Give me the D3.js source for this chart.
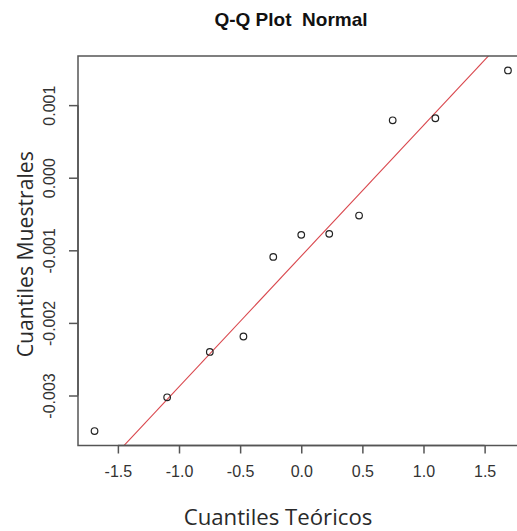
<!DOCTYPE html>
<html>
<head>
<meta charset="utf-8">
<script src="https://cdn.jsdelivr.net/npm/d3@7"></script>
<style>
  html, body { margin: 0; padding: 0; background: #fff; }
  svg { display: block; }
  .main-title { white-space: pre; }
</style>
</head>
<body>
<svg id="chart" width="517" height="531"></svg>
<script>
// Normal Q-Q plot: theoretical normal quantiles vs. sample quantiles
const theoretical = [-1.691, -1.097, -0.748, -0.473, -0.229, 0, 0.229, 0.473, 0.748, 1.097, 1.691];
const sample = [-0.00349, -0.003025, -0.00240, -0.002187, -0.001091, -0.000787, -0.000773, -0.000521, 0.000791, 0.000819, 0.001478];
const xTicks = [-1.5, -1.0, -0.5, 0.0, 0.5, 1.0, 1.5];
const yTicks = [-0.003, -0.002, -0.001, 0.000, 0.001];
const titleText = "Q-Q Plot  Normal";
const xTitle = "Cuantiles Teóricos";
const yTitle = "Cuantiles Muestrales";

const svg = d3.select("#chart");
const plot = { left: 78, right: 524.5, top: 56, bottom: 445.5 };

// axis ranges padded by 4% on each side
function padded(ext) {
  const d = (ext[1] - ext[0]) * 0.04;
  return [ext[0] - d, ext[1] + d];
}
const x = d3.scaleLinear().domain(padded(d3.extent(theoretical))).range([plot.left, plot.right]);
const y = d3.scaleLinear().domain(padded(d3.extent(sample))).range([plot.bottom, plot.top]);

// reference line through the first and third quartiles
const sorted = sample.slice().sort(d3.ascending);
const q1 = d3.quantileSorted(sorted, 0.25), q3 = d3.quantileSorted(sorted, 0.75);
const z1 = -0.6744898, z3 = 0.6744898;
const slope = (q3 - q1) / (z3 - z1);
const intercept = q1 - slope * z1;

svg.append("defs").append("clipPath").attr("id", "plotclip")
  .append("rect")
  .attr("x", plot.left).attr("y", plot.top)
  .attr("width", plot.right - plot.left).attr("height", plot.bottom - plot.top);

const xd = x.domain();
svg.append("line")
  .attr("clip-path", "url(#plotclip)")
  .attr("x1", x(xd[0])).attr("y1", y(intercept + slope * xd[0]))
  .attr("x2", x(xd[1])).attr("y2", y(intercept + slope * xd[1]))
  .attr("stroke", "#d9464c").attr("stroke-width", 1.1);

// points
svg.append("g").selectAll("circle")
  .data(theoretical.map((t, i) => [t, sample[i]]))
  .join("circle")
  .attr("cx", d => x(d[0])).attr("cy", d => y(d[1]))
  .attr("r", 3.3)
  .attr("fill", "none").attr("stroke", "#222").attr("stroke-width", 1.2);

// frame
svg.append("rect")
  .attr("x", plot.left).attr("y", plot.top)
  .attr("width", plot.right - plot.left).attr("height", plot.bottom - plot.top)
  .attr("fill", "none").attr("stroke", "#555").attr("stroke-width", 1.5);

// x axis
const xAxis = d3.axisBottom(x).tickValues(xTicks).tickFormat(d3.format(".1f"))
  .tickSize(8).tickPadding(12).tickSizeOuter(0);
const gx = svg.append("g").attr("transform", `translate(0,${plot.bottom})`).call(xAxis);
gx.select(".domain")
  .attr("d", `M${x(xTicks[0])},0H${x(xTicks[xTicks.length - 1])}`)
  .attr("stroke", "#555").attr("stroke-width", 1.5);
gx.selectAll(".tick line").attr("stroke", "#555").attr("stroke-width", 1.5);
gx.selectAll(".tick text")
  .attr("font-family", "Liberation Sans, Arial, sans-serif").attr("font-size", 16)
  .attr("fill", "#333").attr("dy", "0.71em").text(d => d3.format(".1f")(d).replace("−", "-"));

// y axis
const yAxis = d3.axisLeft(y).tickValues(yTicks).tickFormat(d3.format(".3f"))
  .tickSize(9).tickPadding(0).tickSizeOuter(0);
const gy = svg.append("g").attr("transform", `translate(${plot.left},0)`).call(yAxis);
gy.select(".domain")
  .attr("d", `M0,${y(yTicks[0])}V${y(yTicks[yTicks.length - 1])}`)
  .attr("stroke", "#555").attr("stroke-width", 1.5);
gy.selectAll(".tick line").attr("stroke", "#555").attr("stroke-width", 1.5);
gy.selectAll(".tick text")
  .attr("font-family", "Liberation Sans, Arial, sans-serif").attr("font-size", 16)
  .attr("fill", "#333")
  .attr("x", 0).attr("dy", null)
  .attr("text-anchor", "middle")
  .attr("transform", "translate(-23,0) rotate(-90)")
  .text(d => d3.format(".3f")(d).replace("−", "-"));

// titles
svg.append("text")
  .attr("class", "main-title")
  .attr("xml:space", "preserve")
  .attr("x", 291).attr("y", 26)
  .attr("text-anchor", "middle")
  .attr("font-family", "Liberation Sans, Arial, sans-serif")
  .attr("font-weight", "bold").attr("font-size", 19)
  .attr("fill", "#111")
  .text(titleText);

svg.append("text")
  .attr("x", 278).attr("y", 525)
  .attr("text-anchor", "middle")
  .attr("font-family", "Open Sans, Noto Sans, sans-serif")
  .attr("font-size", 22.2)
  .attr("fill", "#2a2a2a")
  .text(xTitle);

svg.append("text")
  .attr("transform", `translate(32.5,${(plot.top + plot.bottom) / 2 + 3.5}) rotate(-90)`)
  .attr("text-anchor", "middle")
  .attr("font-family", "Open Sans, Noto Sans, sans-serif")
  .attr("font-size", 21.2)
  .attr("fill", "#2a2a2a")
  .text(yTitle);
</script>
</body>
</html>
